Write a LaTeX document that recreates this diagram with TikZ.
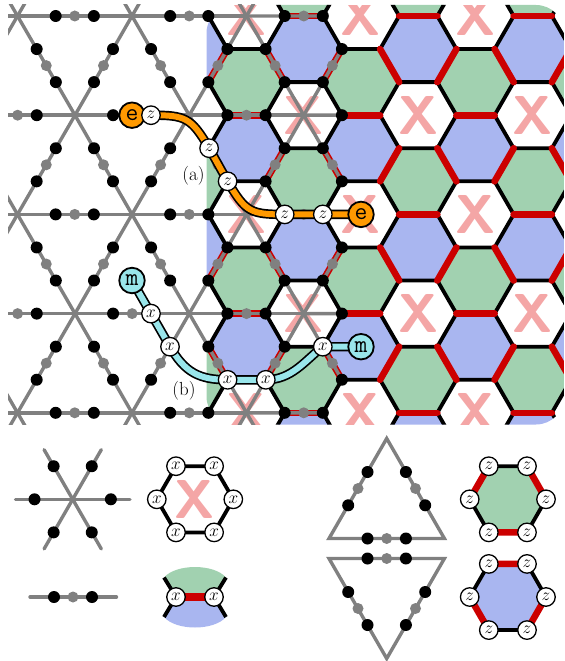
\documentclass[tikz,border=0pt]{standalone}
\usepackage{fontspec}
\usetikzlibrary{calc}
\definecolor{hgreen}{HTML}{A1D1B0}
\definecolor{hblue}{HTML}{A9B6F0}
\definecolor{hred}{HTML}{CC0000}
\definecolor{xpink}{HTML}{F4A6A6}
\definecolor{latgray}{HTML}{808080}
\definecolor{eorange}{HTML}{FF9900}
\definecolor{mcyan}{HTML}{99E6EB}
\tikzset{
  gl/.style={draw=latgray,line width=3.4bp,line cap=butt},
  glr/.style={gl,line cap=round},
  blk/.style={draw=black,line width=3.8bp,line cap=round},
  redge/.style={draw=hred,line width=6.6bp,line cap=round},
  xmark/.style={text=xpink,inner sep=0pt,font=\fontsize{55}{55}\selectfont\sffamily\bfseries},
  ops/.style={circle,draw=black,fill=white,line width=1.3bp,minimum size=18.5bp,inner sep=0pt,font=\fontsize{18}{18}\selectfont},
  ean/.style={circle,draw=black,fill=eorange,line width=1.8bp,minimum size=25.5bp,inner sep=0pt,font=\fontsize{25}{25}\selectfont\ttfamily},
  man/.style={ean,fill=mcyan},
  epath/.style={draw=black,line width=1.7bp,double=eorange,double distance=6bp},
  mpath/.style={epath,double=mcyan},
  lab/.style={inner sep=0.5pt,fill=white,font=\fontsize{19}{20}\selectfont},
}
\newcommand\bdot[1]{\fill[black] #1 circle[radius=6bp];}
\newcommand\gdot{\relax}
\renewcommand\gdot[1]{\fill[latgray] #1 circle[radius=5.5bp];}
% full lattice edge: black, grey, black
\newcommand\kfull[4]{\draw[gl] (#1,#2)--(#3,#4);
  \gdot{($(#1,#2)!.5!(#3,#4)$)}\bdot{($(#1,#2)!.3333!(#3,#4)$)}\bdot{($(#1,#2)!.6667!(#3,#4)$)}}
% edge that stops at its second black dot
\newcommand\kpart[4]{\draw[gl] (#1,#2)--($(#1,#2)!.6667!(#3,#4)$);
  \gdot{($(#1,#2)!.5!(#3,#4)$)}\bdot{($(#1,#2)!.3333!(#3,#4)$)}\bdot{($(#1,#2)!.6667!(#3,#4)$)}}
% leg that stops at its first black dot
\newcommand\kleg[4]{\draw[gl] (#1,#2)--($(#1,#2)!.3333!(#3,#4)$);
  \bdot{($(#1,#2)!.3333!(#3,#4)$)}}
\def\hs{38.17}\def\hh{19.08}\def\hv{33.07}
\newcommand\hexat[2]{(#1-\hs,#2)--(#1-\hh,#2-\hv)--(#1+\hh,#2-\hv)--(#1+\hs,#2)--(#1+\hh,#2+\hv)--(#1-\hh,#2+\hv)--cycle}
\newcommand\redset[2]{
  \draw[redge] (#1-\hh,#2+\hv+\hv+\hv)--(#1+\hh,#2+\hv+\hv+\hv);
  \draw[redge] (#1-\hh,#2+\hv)--(#1-\hs,#2+\hv+\hv);
  \draw[redge] (#1+\hh,#2+\hv)--(#1+\hs,#2+\hv+\hv);}
\begin{document}
\begin{tikzpicture}[x=1bp,y=-1bp]
\useasboundingbox (0,0) rectangle (565,661);
\def\ya{-83.2}\def\yb{16}\def\yc{115.2}\def\yd{214.4}\def\ye{313.6}\def\yf{412.8}\def\yg{512}
\def\evenx{17.5,132,246.5,361,475.5,590,704.5}
\def\oddx{75,189.25,303.75,418.25,532.75,647.25}
% ---- hexagon region
\begin{scope}
\clip[rounded corners=28bp] (206.5,5) rectangle (564,424.5);
\foreach \y in {\yb,\yd,\yf}{\foreach \x in \evenx{
  \fill[hgreen] \hexat{\x}{\y+\hv+\hv};
  \fill[hblue] \hexat{\x}{\y-\hv-\hv};}}
\foreach \y in {\ya,\yc,\ye,\yg}{\foreach \x in \oddx{
  \fill[hgreen] \hexat{\x}{\y+\hv+\hv};
  \fill[hblue] \hexat{\x}{\y-\hv-\hv};}}
\foreach \y [count=\r] in {\yb,\yd,\yf}{\foreach \x [count=\c] in \evenx{
  \node[xmark] (xe\r c\c) at (\x,\y) {X};}}
\foreach \y [count=\r] in {\ya,\yc,\ye,\yg}{\foreach \x [count=\c] in \oddx{
  \node[xmark] (xo\r c\c) at (\x,\y) {X};}}
\foreach \y in {\yb,\yd,\yf}{\foreach \x in \evenx{
  \draw[blk,line join=round] \hexat{\x}{\y};}}
\foreach \y in {\ya,\yc,\ye,\yg}{\foreach \x in \oddx{
  \draw[blk,line join=round] \hexat{\x}{\y};}}
\foreach \y in {\yb,\yd,\yf}{\foreach \x in \evenx{\redset{\x}{\y}}}
\foreach \y in {\ya,\yc,\ye,\yg}{\foreach \x in \oddx{\redset{\x}{\y}}}
\end{scope}
\node[lab] (lba) at (193.5,176) {(a)};
\node[lab] (lbb) at (184,391) {(b)};
% ---- lattice region
\begin{scope}
\clip (8,5) rectangle (564,424.5);
% horizontals
\foreach \y in {\yb,\yf}{
  \kfull{-97}{\y}{17.5}{\y}\kfull{17.5}{\y}{132}{\y}\kfull{132}{\y}{246.5}{\y}\kpart{246.5}{\y}{361}{\y}}
\foreach \y in {\yc,\ye}{
  \kfull{-39.75}{\y}{75}{\y}\kfull{75}{\y}{189.25}{\y}\kfull{189.25}{\y}{303.75}{\y}\kleg{303.75}{\y}{418.25}{\y}}
\kfull{-97}{\yd}{17.5}{\yd}\kfull{17.5}{\yd}{132}{\yd}\kfull{132}{\yd}{246.5}{\yd}\kpart{246.5}{\yd}{361}{\yd}
% diagonals: even row to odd row
\foreach \p/\q in {17.5/-39.75,17.5/75,132/75,132/189.25,246.5/189.25,246.5/303.75}{
  \kfull{\p}{\yb}{\q}{\yc}\kfull{\p}{\yd}{\q}{\ye}\kfull{\p}{\yd}{\q}{\yc}\kfull{\p}{\yf}{\q}{\ye}}
\foreach \p/\q in {17.5/-39.75,17.5/75,132/75,132/189.25,246.5/189.25,246.5/303.75}{
  \kfull{\p}{\yb}{\q}{\ya}\kfull{\p}{\yf}{\q}{\yg}}
\kpart{303.75}{\yc}{361}{\yb}\kpart{303.75}{\yc}{361}{\yd}
\kpart{303.75}{\ye}{361}{\yd}\kpart{303.75}{\ye}{361}{\yf}
\end{scope}
% ---- string (a)
\coordinate (ca0) at (132,115.2);
\coordinate (ca1) at (151,115.2);
\coordinate (ca2) at (209.1,148.2);
\coordinate (ca3) at (227.6,181.3);
\coordinate (ca4) at (284.7,214.4);
\coordinate (ca5) at (322.8,214.4);
\coordinate (ca6) at (361,214.4);
\draw[epath] (ca0) -- (ca1) .. controls +(34,0) and +(-18,-31) .. (ca2) -- (ca3) .. controls +(18,31) and +(-34,0) .. (ca4) -- (ca5) -- (ca6);
\node[ean] (ea) at (ca0) {e};
\node[ops] (za1) at (ca1) {$z$};
\node[ops] (za2) at (ca2) {$z$};
\node[ops] (za3) at (ca3) {$z$};
\node[ops] (za4) at (ca4) {$z$};
\node[ops] (za5) at (ca5) {$z$};
\node[ean] (eb) at (ca6) {e};
% ---- string (b)
\coordinate (cb0) at (132,280.5);
\coordinate (cb1) at (151,313.6);
\coordinate (cb2) at (170,346.7);
\coordinate (cb3) at (227.6,379.8);
\coordinate (cb4) at (265.8,379.8);
\coordinate (cb5) at (322.8,346.7);
\coordinate (cb6) at (361,346.7);
\draw[mpath] (cb0) -- (cb1) .. controls +(6,10.4) and +(-6,-10.4) .. (cb2) .. controls +(15,26) and +(-28,0) .. (cb3) -- (cb4) .. controls +(26,0) and +(-18,14) .. (cb5) -- (cb6);
\node[man] (ma) at (cb0) {m};
\node[ops] (xa1) at (cb1) {$x$};
\node[ops] (xa2) at (cb2) {$x$};
\node[ops] (xa3) at (cb3) {$x$};
\node[ops] (xa4) at (cb4) {$x$};
\node[ops] (xa5) at (cb5) {$x$};
\node[man] (mb) at (cb6) {m};
% ---- legend: star
\def\cx{72.7}\def\cy{499.3}
\foreach \dx/\dy in {57.25/0,-57.25/0,28.6/49.6,-28.6/49.6,28.6/-49.6,-28.6/-49.6}{
  \draw[glr] (\cx,\cy)--(\cx+\dx,\cy+\dy);
  \bdot{($(\cx,\cy)!.6667!(\cx+\dx,\cy+\dy)$)}}
% ---- legend: edge
\draw[glr] (30,597)--(116.5,597);
\gdot{(73,597)}\bdot{(54,597)}\bdot{(92,597)}
% ---- legend: X hexagon
\node[xmark] (lx) at (195,499.3) {X};
\coordinate (h1) at (176,466.2);\coordinate (h2) at (214.1,466.2);\coordinate (h3) at (233.3,499.3);
\coordinate (h4) at (214.1,532.4);\coordinate (h5) at (176,532.4);\coordinate (h6) at (156.8,499.3);
\draw[blk] (h1)--(h2)--(h3)--(h4)--(h5)--(h6)--cycle;
\foreach \i in {1,...,6}{\node[ops] (lxn\i) at (h\i) {$x$};}
% ---- legend: green / blue edge
\coordinate (e1) at (176,597);\coordinate (e2) at (214,597);
\coordinate (e3) at (164,577.5);\coordinate (e4) at (226,577.5);
\coordinate (e5) at (164,617);\coordinate (e6) at (226,617);
\fill[hgreen] (e1) -- (e3) .. controls (176,563.5) and (214,563.5) .. (e4) -- (e2) -- cycle;
\fill[hblue] (e1) -- (e5) .. controls (176,631) and (214,631) .. (e6) -- (e2) -- cycle;
\draw[draw=hred,line width=8bp] (e1) -- (e2);
\draw[draw=black,line width=3.8bp] (e1)--(e3) (e1)--(e5) (e2)--(e4) (e2)--(e6);
\node[ops] (len1) at (e1) {$x$};
\node[ops] (len2) at (e2) {$x$};
% ---- legend: triangles
\draw[gl,line join=miter,miter limit=10] (386.7,438.5)--(329,538.5)--(444.4,538.5)--cycle;
\gdot{(358,488.5)}\gdot{(415.5,488.5)}\gdot{(386.7,538.5)}
\bdot{(367.5,472)}\bdot{(348.2,505.3)}\bdot{(405.9,472)}\bdot{(425.2,505.3)}\bdot{(367.5,538.5)}\bdot{(405.9,538.5)}
\draw[gl,line join=miter,miter limit=10] (386.7,658.5)--(329,558.5)--(444.4,558.5)--cycle;
\gdot{(358,608.5)}\gdot{(415.5,608.5)}\gdot{(386.7,558.5)}
\bdot{(367.5,625)}\bdot{(348.2,592)}\bdot{(405.9,625)}\bdot{(425.2,592)}\bdot{(367.5,558.5)}\bdot{(405.9,558.5)}
% ---- legend: coloured hexagons
\foreach \n/\cyy/\col in {g/499.3/hgreen,b/597/hblue}{
  \coordinate (\n1) at (488.8,\cyy-33.07);\coordinate (\n2) at (527,\cyy-33.07);\coordinate (\n3) at (546,\cyy);
  \coordinate (\n4) at (527,\cyy+33.07);\coordinate (\n5) at (488.8,\cyy+33.07);\coordinate (\n6) at (469.7,\cyy);
  \fill[\col] (\n1)--(\n2)--(\n3)--(\n4)--(\n5)--(\n6)--cycle;
}
\draw[blk] (g1)--(g2) (g3)--(g4) (g5)--(g6);
\draw[redge] (g2)--(g3) (g4)--(g5) (g6)--(g1);
\draw[blk] (b2)--(b3) (b4)--(b5) (b6)--(b1);
\draw[redge] (b1)--(b2) (b3)--(b4) (b5)--(b6);
\foreach \n in {g,b}{\foreach \i in {1,...,6}{\node[ops] (l\n z\i) at (\n\i) {$z$};}}
\end{tikzpicture}
\end{document}
